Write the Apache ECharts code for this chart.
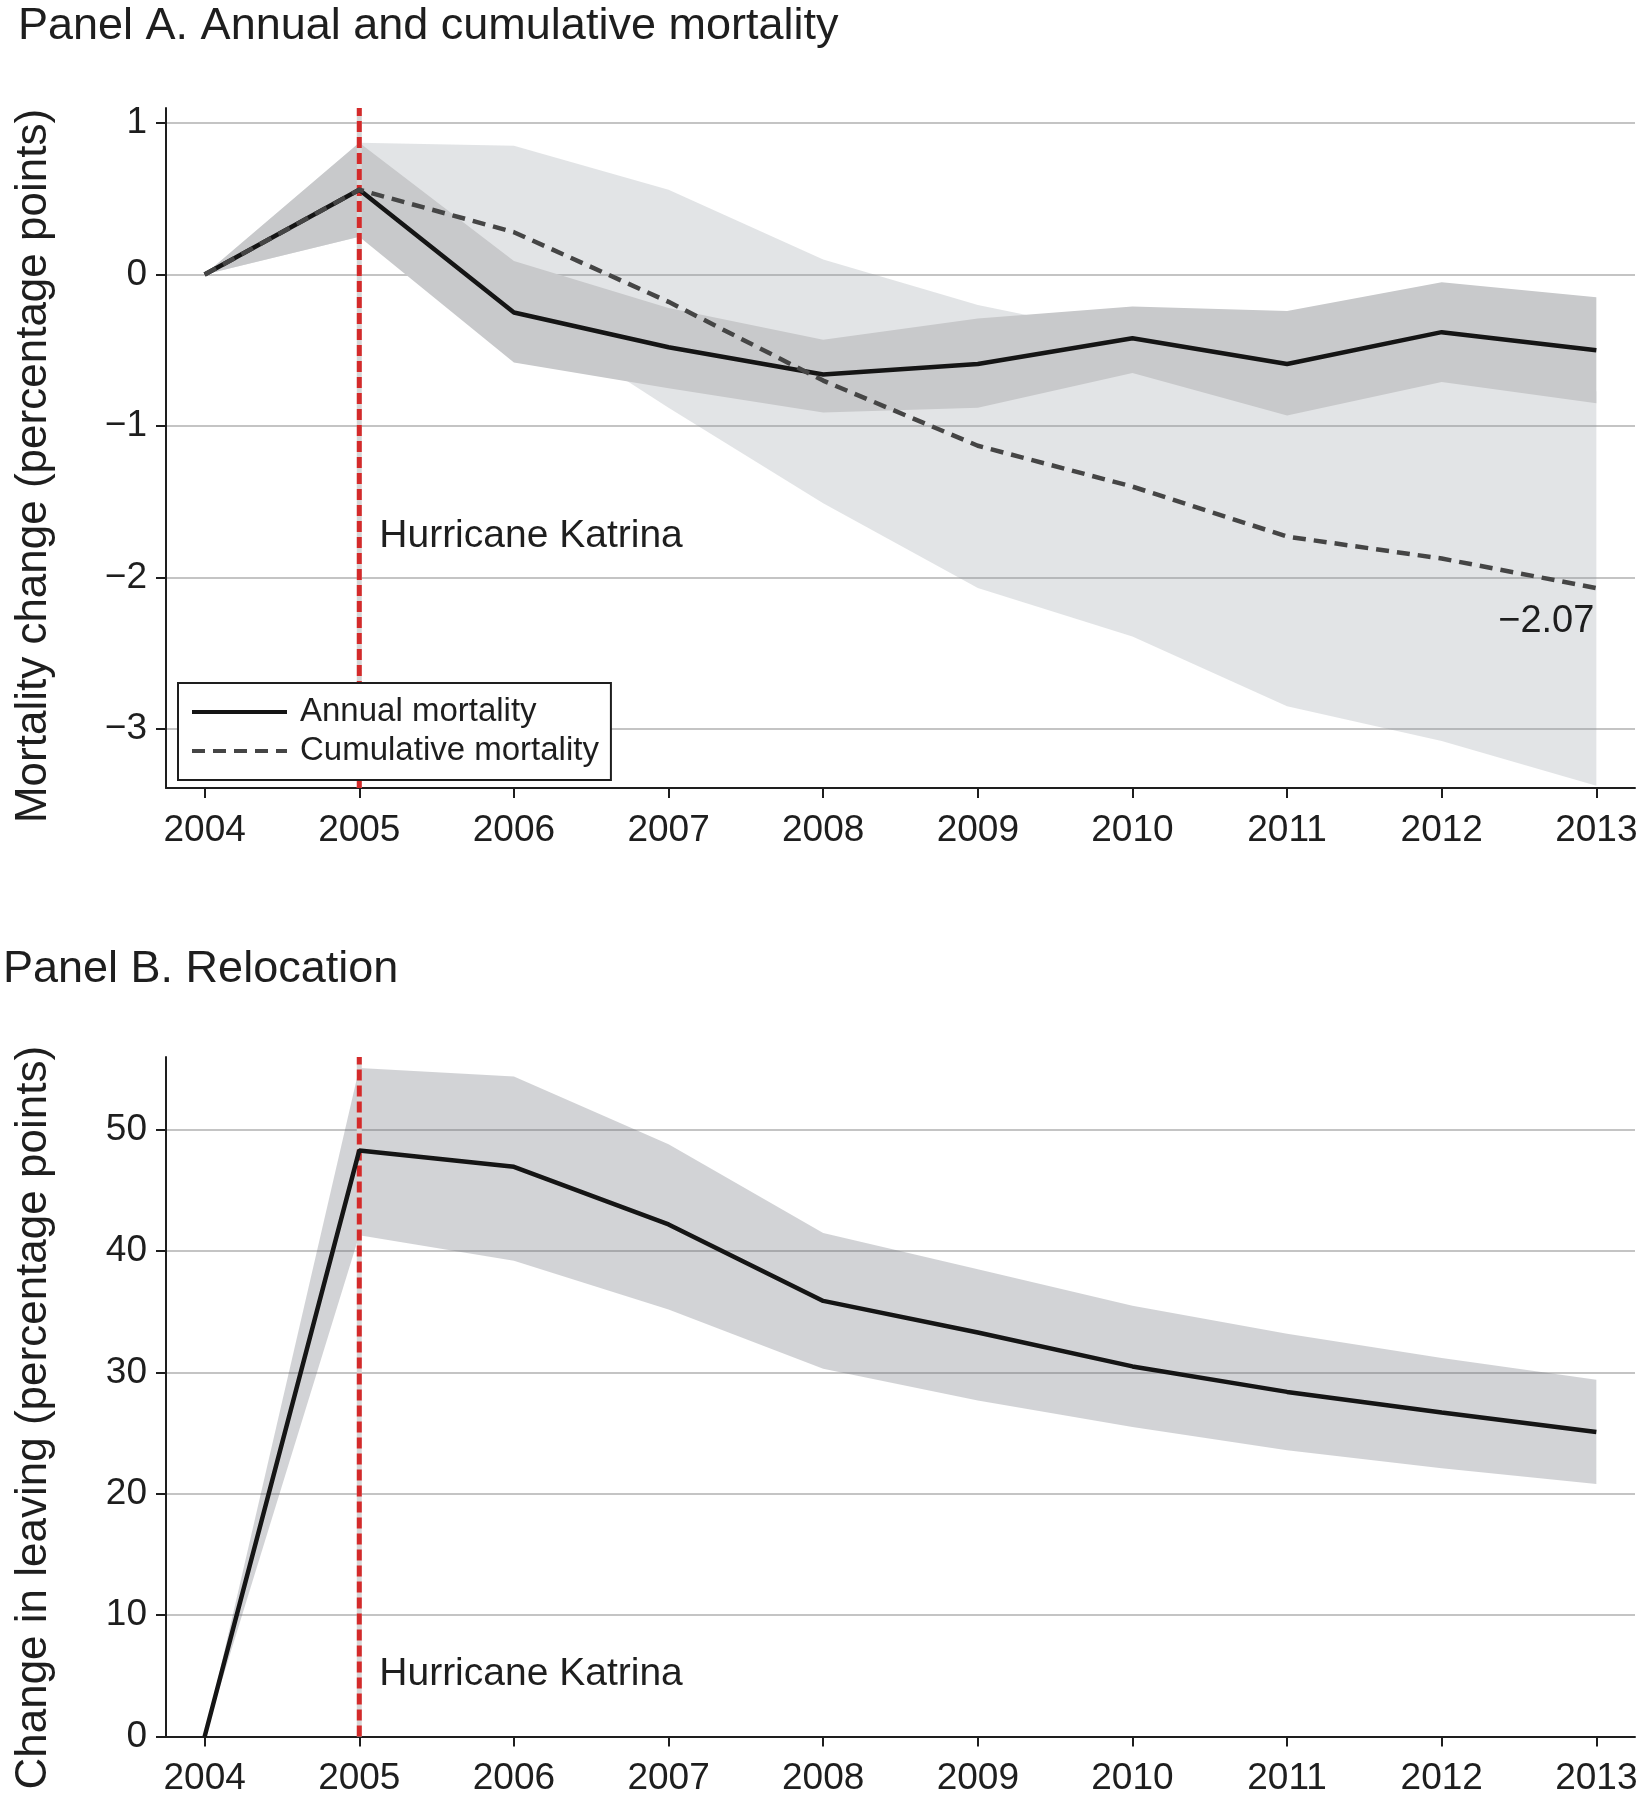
<!DOCTYPE html>
<html>
<head>
<meta charset="utf-8">
<script src="https://cdn.jsdelivr.net/npm/echarts@6/dist/echarts.min.js"></script>
<style>
html,body{margin:0;padding:0;background:#fff;}
#chart{width:1649px;height:1800px;}
</style>
</head>
<body>
<div id="chart"></div>
<script>
// ---------------- DATA ----------------
const years = [2004, 2005, 2006, 2007, 2008, 2009, 2010, 2011, 2012, 2013];
const katrinaYear = 2005;

// Panel A: annual mortality (solid) and its CI (dark band)
const annual   = [0, 0.56, -0.25, -0.48, -0.66, -0.59, -0.42, -0.59, -0.38, -0.50];
const annualLo = [0, 0.25, -0.58, -0.75, -0.91, -0.88, -0.65, -0.93, -0.71, -0.85];
const annualHi = [0, 0.87,  0.09, -0.22, -0.43, -0.29, -0.21, -0.24, -0.05, -0.15];

// Panel A: cumulative mortality (dashed) and its CI (light band)
const cumulative = [0, 0.56, 0.28, -0.18, -0.70, -1.13, -1.40, -1.73, -1.875, -2.07];
const cumLo      = [0, 0.25, -0.22, -0.88, -1.51, -2.07, -2.39, -2.85, -3.08, -3.375];
const cumHi      = [0, 0.87, 0.85, 0.56, 0.10, -0.20, -0.41, -0.61, -0.67, -0.77];

// Panel B: relocation and its CI
const relocation = [0, 48.3, 46.95, 42.2, 35.9, 33.3, 30.5, 28.4, 26.7, 25.1];
const relLo      = [0, 41.3, 39.2, 35.2, 30.3, 27.7, 25.5, 23.6, 22.1, 20.8];
const relHi      = [0, 55.1, 54.4, 48.8, 41.5, 38.5, 35.5, 33.2, 31.2, 29.4];

// Axis ticks
const yTicksA = [-3, -2, -1, 0, 1];
const yTicksB = [0, 10, 20, 30, 40, 50];
const yRangeA = [-3.39, 1.1];
const yRangeB = [0, 56];
const xRange = [2003.75, 2013.25];

// Annotation anchors (data coordinates)
const katrinaLabelA = [2005, -1.73];
const katrinaLabelB = [2005, 5.15];

// ---------------- CHART ----------------
const FONT = 'Liberation Sans, Arial, sans-serif';
const INK = '#1e1e1e';
const minus = v => (v < 0 ? '\u2212' + Math.abs(v) : String(v));

function bandRender(lo, hi, fill) {
  return function (params, api) {
    if (params.dataIndex !== 0) return null;
    const pts = [];
    for (let i = 0; i < years.length; i++) pts.push(api.coord([years[i], hi[i]]));
    for (let i = years.length - 1; i >= 0; i--) pts.push(api.coord([years[i], lo[i]]));
    return { type: 'polygon', shape: { points: pts }, style: { fill: fill, stroke: null } };
  };
}
function bandSeries(idx, lo, hi, fill) {
  return {
    type: 'custom', xAxisIndex: idx, yAxisIndex: idx, silent: true,
    renderItem: bandRender(lo, hi, fill),
    data: years.map((y, i) => [y, lo[i], hi[i]]),
    encode: { x: 0, y: [1, 2] }
  };
}
function katrinaLines(idx, range) {
  return [
    { type: 'line', xAxisIndex: idx, yAxisIndex: idx, silent: true, symbol: 'none',
      data: [[katrinaYear, range[0]], [katrinaYear, range[1]]],
      lineStyle: { color: '#d6d6d6', width: 5 } },
    { type: 'line', xAxisIndex: idx, yAxisIndex: idx, silent: true, symbol: 'none',
      data: [[katrinaYear, range[0]], [katrinaYear, range[1]]],
      lineStyle: { color: '#d42a2a', width: 5, type: [11, 5] } }
  ];
}
function katrinaLabel(idx, pos) {
  return {
    type: 'scatter', xAxisIndex: idx, yAxisIndex: idx, silent: true,
    symbolSize: 0, data: [pos], itemStyle: { opacity: 1 },
    label: { show: true, position: 'right', distance: 20, formatter: 'Hurricane Katrina',
      fontSize: 39, color: INK, opacity: 1, fontFamily: FONT }
  };
}
function xAxisDef(idx) {
  return {
    type: 'value', gridIndex: idx, min: xRange[0], max: xRange[1],
    axisLine: { show: true, onZero: false, lineStyle: { color: INK, width: 2 } },
    axisTick: { show: true, customValues: years, length: 10, lineStyle: { color: INK, width: 2 } },
    axisLabel: { show: true, customValues: years, formatter: v => String(v), fontSize: 37,
      color: INK, margin: 24, fontFamily: FONT },
    splitLine: { show: false }
  };
}
function yAxisDef(idx, range, ticks, name, pad) {
  return {
    type: 'value', gridIndex: idx, min: range[0], max: range[1],
    name: name, nameLocation: 'middle', nameGap: 110,
    nameTextStyle: { fontSize: 44, color: INK, fontFamily: FONT, padding: [0, pad, 0, 0] },
    axisLine: { show: true, onZero: false, lineStyle: { color: INK, width: 2 } },
    axisTick: { show: true, customValues: ticks, length: 10, lineStyle: { color: INK, width: 2 } },
    axisLabel: { show: true, customValues: ticks, formatter: minus, fontSize: 37, color: INK,
      margin: 19, fontFamily: FONT },
    splitLine: { show: true, customValues: ticks, lineStyle: { color: '#c4c4c4', width: 2 } }
  };
}

const chart = echarts.init(document.getElementById('chart'), null, { renderer: 'canvas' });

const option = {
  backgroundColor: '#ffffff',
  animation: false,
  textStyle: { fontFamily: FONT },
  title: [
    { text: 'Panel A. Annual and cumulative mortality', left: 18, top: 4, padding: 0,
      textStyle: { fontSize: 45, fontWeight: 'normal', color: INK, fontFamily: FONT } },
    { text: 'Panel B. Relocation', left: 3, top: 947, padding: 0,
      textStyle: { fontSize: 45, fontWeight: 'normal', color: INK, fontFamily: FONT } }
  ],
  grid: [
    { left: 166, right: 14, top: 108, height: 680 },
    { left: 166, right: 14, top: 1057, height: 679.5 }
  ],
  legend: {
    left: 178, top: 683, orient: 'vertical', padding: 12, itemGap: 5,
    borderColor: INK, borderWidth: 2, backgroundColor: '#ffffff',
    itemWidth: 95, itemHeight: 14,
    itemStyle: { opacity: 0 },
    lineStyle: { width: 4 },
    textStyle: { fontSize: 33, lineHeight: 34, color: INK, fontFamily: FONT, padding: [0, 0, 0, 8] },
    data: ['Annual mortality', 'Cumulative mortality']
  },
  xAxis: [xAxisDef(0), xAxisDef(1)],
  yAxis: [
    yAxisDef(0, yRangeA, yTicksA, 'Mortality change (percentage points)', 36),
    yAxisDef(1, yRangeB, yTicksB, 'Change in leaving (percentage points)', 42)
  ],
  series: [
    // Panel A
    ...katrinaLines(0, yRangeA),
    bandSeries(0, cumLo, cumHi, 'rgba(140,146,156,0.25)'),
    bandSeries(0, annualLo, annualHi, '#c8c9cb'),
    { name: 'Annual mortality', type: 'line', xAxisIndex: 0, yAxisIndex: 0, symbol: 'none',
      data: years.map((y, i) => [y, annual[i]]),
      lineStyle: { color: '#151515', width: 4.5 }, itemStyle: { color: '#151515' } },
    { name: 'Cumulative mortality', type: 'line', xAxisIndex: 0, yAxisIndex: 0, symbol: 'none',
      data: years.map((y, i) => [y, cumulative[i]]),
      lineStyle: { color: '#454545', width: 4.5, type: [13, 8] }, itemStyle: { color: '#454545' } },
    { type: 'scatter', xAxisIndex: 0, yAxisIndex: 0, silent: true, symbolSize: 0,
      itemStyle: { opacity: 1 },
      data: [[years[years.length - 1], cumulative[cumulative.length - 1]]],
      label: { show: true, position: 'bottom', distance: 5, align: 'right', offset: [-2, 9],
        formatter: p => '\u2212' + Math.abs(p.value[1]).toFixed(2),
        fontSize: 38, color: INK, opacity: 1, fontFamily: FONT } },
    katrinaLabel(0, katrinaLabelA),
    // Panel B
    ...katrinaLines(1, yRangeB),
    bandSeries(1, relLo, relHi, 'rgba(100,104,112,0.29)'),
    { type: 'line', xAxisIndex: 1, yAxisIndex: 1, symbol: 'none', silent: true,
      data: years.map((y, i) => [y, relocation[i]]),
      lineStyle: { color: '#151515', width: 4.5 } },
    katrinaLabel(1, katrinaLabelB)
  ]
};
chart.setOption(option);
</script>
</body>
</html>
